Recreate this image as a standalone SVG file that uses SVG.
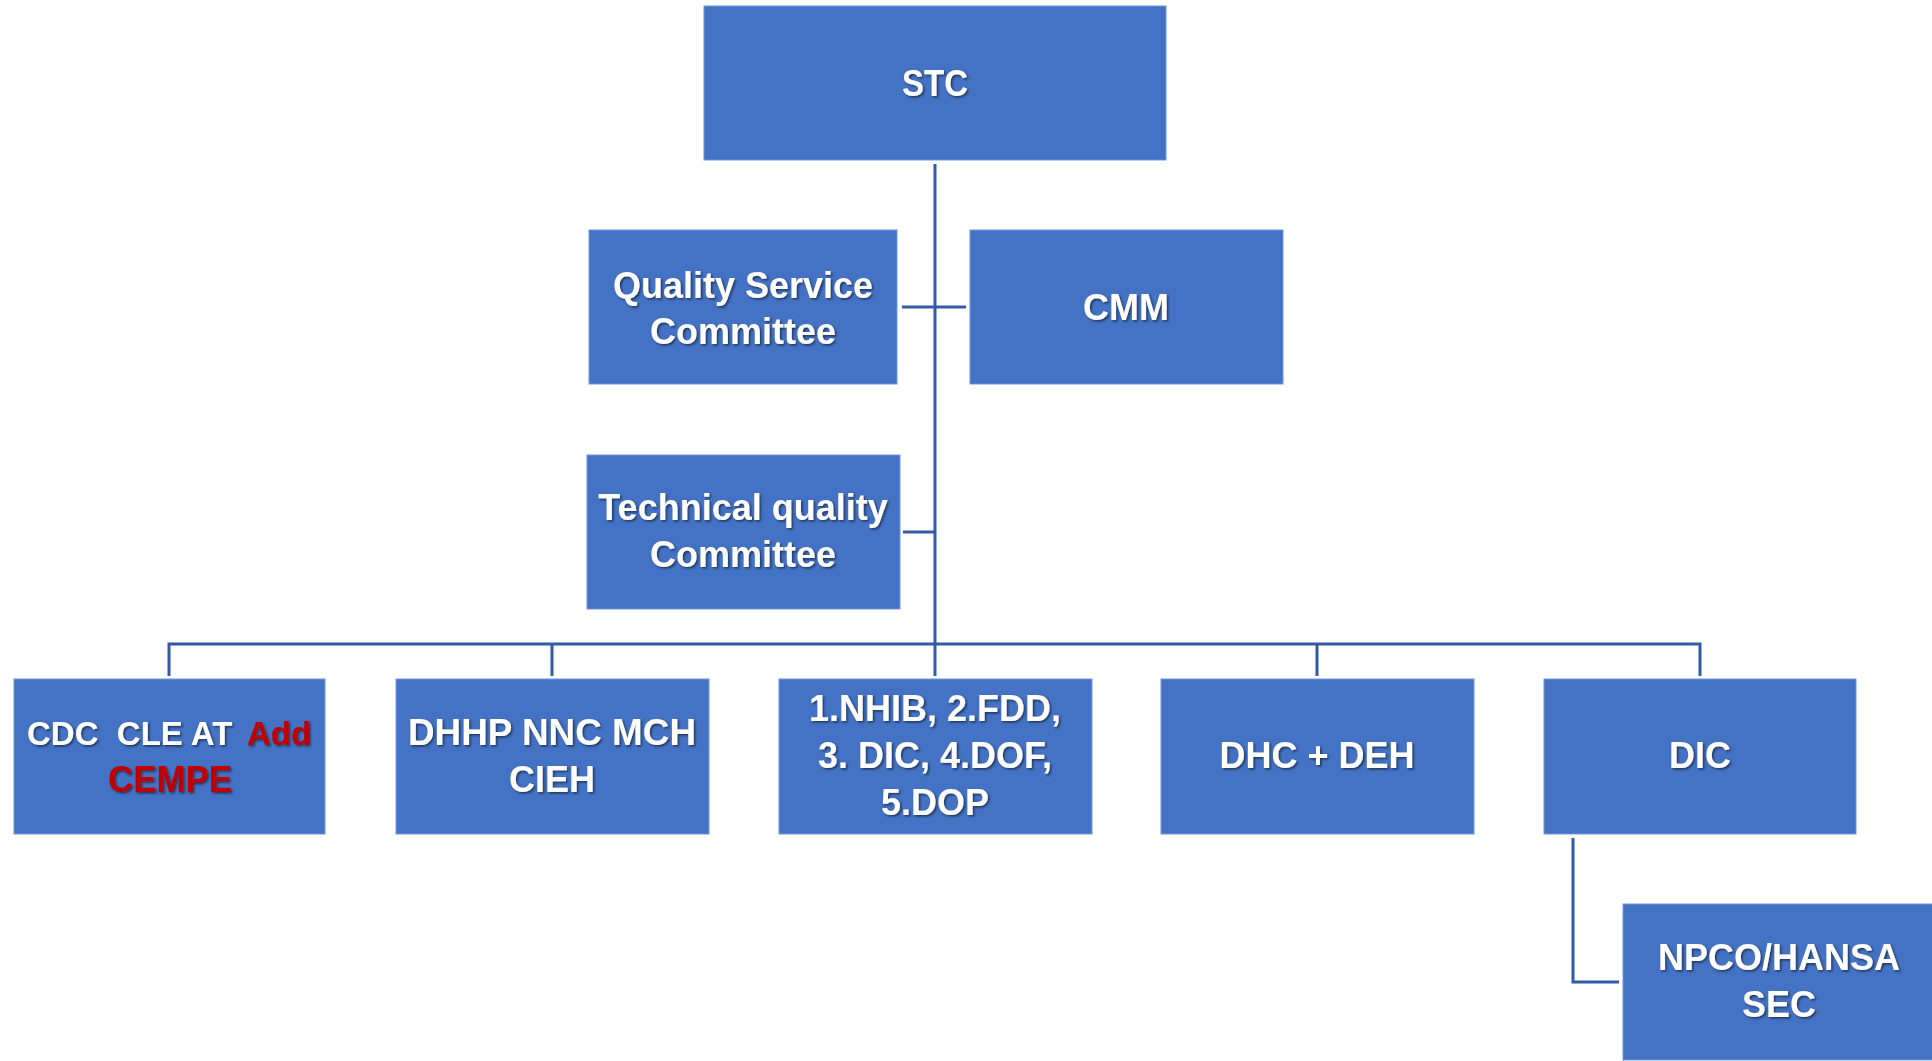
<svg xmlns="http://www.w3.org/2000/svg" width="1932" height="1061" viewBox="0 0 1932 1061">
<defs>
<filter id="sh" x="-10%" y="-20%" width="120%" height="140%">
<feDropShadow dx="1.5" dy="1.5" stdDeviation="1" flood-color="#000" flood-opacity="0.55"/>
</filter>
<style>
.box{fill:#4472C4;stroke:#7097DA;stroke-width:1}
.t{font-family:"Liberation Sans",Arial,sans-serif;font-weight:bold;font-size:36px;fill:#fff;text-anchor:middle;filter:url(#sh)}
.s{text-anchor:start;font-size:33px}
.red{fill:#C00000}
.c{fill:none;stroke:#3559A6;stroke-width:3}
</style>
</defs>
<rect width="1932" height="1061" fill="#fff"/>
<g id="connectors">
<path class="c" d="M935 164 V676"/>
<path class="c" d="M902 307 H966"/>
<path class="c" d="M903 532 H935"/>
<path class="c" d="M169 676 V644 H1700 V676"/>
<path class="c" d="M552 644 V676"/>
<path class="c" d="M1317 644 V676"/>
<path class="c" d="M1573 838 V982 H1619"/>
</g>
<g id="stc">
<rect class="box" x="704" y="6" width="462" height="154"/>
<text class="t" x="935" y="96" textLength="66" lengthAdjust="spacingAndGlyphs">STC</text>
</g>
<g id="quality-service">
<rect class="box" x="589" y="230" width="308" height="154"/>
<text class="t" x="743" y="298">Quality Service</text>
<text class="t" x="743" y="344">Committee</text>
</g>
<g id="cmm">
<rect class="box" x="970" y="230" width="313" height="154"/>
<text class="t" x="1126" y="320">CMM</text>
</g>
<g id="technical-quality">
<rect class="box" x="587" y="455" width="313" height="154"/>
<text class="t" x="743" y="520">Technical quality</text>
<text class="t" x="743" y="567">Committee</text>
</g>
<g id="cdc">
<rect class="box" x="14" y="679" width="311" height="155"/>
<text class="t s" x="27" y="745" xml:space="preserve">CDC  CLE AT</text>
<text class="t s red" x="247" y="745">Add</text>
<text class="t red" x="170" y="792" textLength="124" lengthAdjust="spacingAndGlyphs">CEMPE</text>
</g>
<g id="dhhp">
<rect class="box" x="396" y="679" width="313" height="155"/>
<text class="t" x="552" y="745" textLength="288" lengthAdjust="spacingAndGlyphs">DHHP NNC MCH</text>
<text class="t" x="552" y="792">CIEH</text>
</g>
<g id="nhib">
<rect class="box" x="779" y="679" width="313" height="155"/>
<text class="t" x="935" y="721">1.NHIB, 2.FDD,</text>
<text class="t" x="935" y="768">3. DIC, 4.DOF,</text>
<text class="t" x="935" y="815">5.DOP</text>
</g>
<g id="dhc">
<rect class="box" x="1161" y="679" width="313" height="155"/>
<text class="t" x="1317" y="768">DHC + DEH</text>
</g>
<g id="dic">
<rect class="box" x="1544" y="679" width="312" height="155"/>
<text class="t" x="1700" y="768">DIC</text>
</g>
<g id="npco">
<rect class="box" x="1623" y="904" width="313" height="156"/>
<text class="t" x="1779" y="970">NPCO/HANSA</text>
<text class="t" x="1779" y="1017">SEC</text>
</g>
</svg>
